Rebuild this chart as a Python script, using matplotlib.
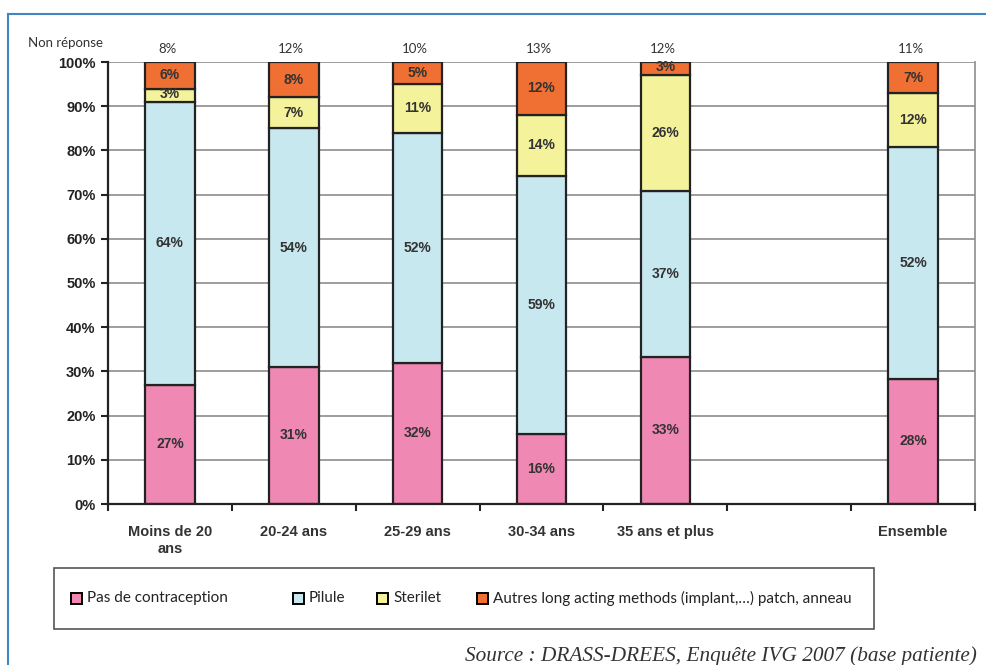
import matplotlib.pyplot as plt
import numpy as np
from matplotlib.lines import Line2D
from matplotlib.patches import Rectangle

# age groups, with an empty slot before the overall bar
categories = ["Moins de 20\nans", "20-24 ans", "25-29 ans", "30-34 ans",
              "35 ans et plus", "", "Ensemble"]
non_reponse = ["8%", "12%", "10%", "13%", "12%", "", "11%"]

series_names = ["Pas de contraception", "Pilule", "Sterilet",
                "Autres long acting methods (implant,\u2026) patch, anneau"]
pas_de_contraception = [27, 31, 32, 16, 33, 0, 28]
pilule = [64, 54, 52, 59, 37, 0, 52]
sterilet = [3, 7, 11, 14, 26, 0, 12]
autres = [6, 8, 5, 12, 3, 0, 7]

colors = ["#f088b4", "#c8e8f0", "#f4f29a", "#f07033"]
edge = "#222222"

values = np.array([pas_de_contraception, pilule, sterilet, autres], dtype=float)
totals = values.sum(axis=0)
shares = np.divide(values * 100, totals, out=np.zeros_like(values), where=totals > 0)

fig = plt.figure(figsize=(9.87, 6.65), dpi=100)
W, H = 987, 665


def fx(px):
    return px / W


def fy(py):
    return 1 - py / H


ax = fig.add_axes([fx(108), fy(504), (975 - 108) / W, (504 - 62) / H])

x = np.arange(len(categories))
bottom = np.zeros(len(categories))
for k in range(4):
    mask = totals > 0
    ax.bar(x[mask], shares[k][mask], bottom=bottom[mask], width=0.4,
           color=colors[k], edgecolor=edge, linewidth=1.6, zorder=3)
    for i in np.where(mask)[0]:
        y = bottom[i] + shares[k][i] / 2
        if shares[k][i] < 4:
            y = bottom[i] + shares[k][i] * 0.62
        ax.text(x[i], y, f"{int(values[k][i])}%", ha="center", va="center",
                fontsize=10, fontweight="bold", color="#333333",
                family="Liberation Sans", zorder=4)
    bottom += shares[k]

# "Non réponse" row above the bars
for i, s in enumerate(non_reponse):
    ax.text(x[i] - 0.02, 1.03, s, transform=ax.get_xaxis_transform(),
            ha="center", va="center", fontsize=9.5, color="#333333", family="Lato")
fig.text(fx(28), fy(43), "Non réponse", fontsize=9.5, color="#333333",
         family="Lato", va="center")

ax.set_xlim(-0.5, len(categories) - 0.5)
ax.set_ylim(0, 100)
ax.set_yticks(np.arange(0, 101, 10))
ax.set_yticklabels([f"{v}%" for v in range(0, 101, 10)], fontsize=10.5,
                   fontweight="bold", family="Liberation Sans", color="#222222")
ax.set_xticks(x)
ax.set_xticklabels(categories, fontsize=10.5, fontweight="bold",
                   family="Liberation Sans", color="#333333", linespacing=1.3)
ax.set_xticks(np.arange(-0.5, len(categories)), minor=True)
ax.tick_params(axis="x", which="major", length=0, pad=15)
ax.tick_params(axis="x", which="minor", length=5, width=1.5, color=edge)
ax.tick_params(axis="y", length=5, width=1.5, color=edge, pad=4)

ax.grid(axis="y", color="#8c8c8c", linewidth=1.2, zorder=0)
for side in ["left", "bottom"]:
    ax.spines[side].set_color(edge)
    ax.spines[side].set_linewidth(1.6)
    ax.spines[side].set_zorder(5)
ax.spines["right"].set_color("#8c8c8c")
ax.spines["right"].set_linewidth(1.2)
ax.spines["top"].set_visible(False)

# legend box, laid out by hand
fig.add_artist(Rectangle((fx(54), fy(629)), (874 - 54) / W, (629 - 568) / H,
                         transform=fig.transFigure, facecolor="white",
                         edgecolor="#555555", linewidth=1.2))
legend_x = [71, 293, 377, 477]
for name, c, lx in zip(series_names, colors, legend_x):
    fig.add_artist(Rectangle((fx(lx), fy(604)), 11 / W, 11 / H,
                             transform=fig.transFigure, facecolor=c,
                             edgecolor="black", linewidth=1.4))
    fig.text(fx(lx + 16), fy(598), name, fontsize=11, family="Lato",
             color="#222222", va="center")

fig.text(fx(977), fy(656),
         "Source : DRASS-DREES, Enquête IVG 2007 (base patiente)",
         ha="right", va="center", fontsize=15.3, style="italic",
         family="Liberation Serif", color="#333333")

# blue page frame
fig.add_artist(Line2D([fx(8), 1], [fy(14), fy(14)], color="#3f88c5", lw=1.5))
fig.add_artist(Line2D([fx(8), fx(8)], [0, fy(14)], color="#3f88c5", lw=1.5))

fig.savefig("out.png", dpi=100)
